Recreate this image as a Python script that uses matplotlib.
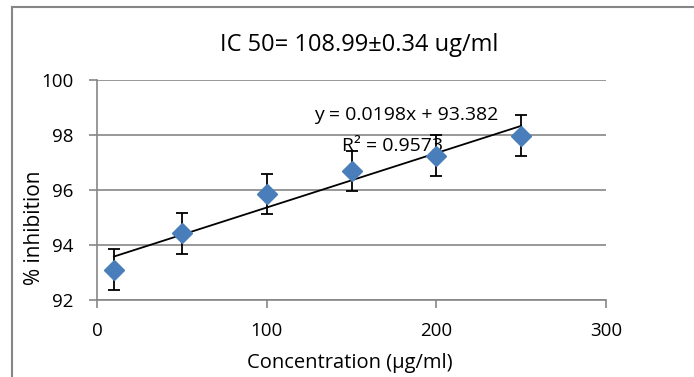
import matplotlib.pyplot as plt
from matplotlib.lines import Line2D
import numpy as np

# data
conc = [10, 50, 100, 150, 200, 250]
inhibition = [93.1, 94.42, 95.85, 96.7, 97.25, 97.98]
err = [0.74, 0.73, 0.73, 0.73, 0.75, 0.75]
slope = 0.0198
intercept = 93.382
r2 = 0.9573

plt.rcParams['font.family'] = ['Open Sans', 'DejaVu Sans']

W, H = 694, 377
fig = plt.figure(figsize=(W / 100, H / 100), dpi=100)
ax = fig.add_axes([97 / W, 1 - 300 / H, (606 - 97) / W, (300 - 80) / H])

grid_col = '#868686'
ax.set_xlim(0, 300)
ax.set_ylim(92, 100)
ax.set_xticks([0, 100, 200, 300])
ax.set_yticks([92, 94, 96, 98, 100])
ax.yaxis.grid(True, color=grid_col, linewidth=1.2)
ax.set_axisbelow(True)
for s in ['top', 'right']:
    ax.spines[s].set_visible(False)
for s in ['left', 'bottom']:
    ax.spines[s].set_color(grid_col)
    ax.spines[s].set_linewidth(1.2)
ax.tick_params(axis='both', color=grid_col, width=1.2, length=6, labelsize=13.5)
ax.tick_params(axis='x', pad=10)
ax.tick_params(axis='y', pad=11)

# trendline
xt = np.array([conc[0], conc[-1]])
ax.plot(xt, slope * xt + intercept, color='black', linewidth=1.3, zorder=2)

ax.errorbar(conc, inhibition, yerr=err, fmt='none', ecolor='black', elinewidth=1.3,
            capsize=4, capthick=1.3, zorder=3)
ax.plot(conc, inhibition, linestyle='none', marker='D', markersize=10,
        color='#4A7EBB', zorder=4)

ax.text(406.5 / W, 1 - 115 / H, 'y = %.4fx + %.3f' % (slope, intercept), ha='center', va='center',
        fontsize=14, transform=fig.transFigure)
ax.text(392 / W, 1 - 146 / H, 'R² = %.4f' % r2, ha='center', va='center',
        fontsize=14, transform=fig.transFigure)

fig.text(359 / W, 1 - 45 / H, 'IC 50= 108.99±0.34 ug/ml', ha='center', va='center', fontsize=17)
ax.set_xlabel('Concentration (µg/ml)', fontsize=14.5)
ax.set_ylabel('% inhibition', fontsize=15)
ax.xaxis.set_label_coords(0.497, -0.285)
ax.yaxis.set_label_coords(-0.122, 0.327)
ax.xaxis.label.set_va('center')
ax.yaxis.label.set_va('center')

# outer chart border (only left and top edges are inside the crop)
fig.add_artist(Line2D([12 / W, 12 / W], [0, 1 - 7 / H], transform=fig.transFigure,
                      color=grid_col, linewidth=1.5))
fig.add_artist(Line2D([12 / W, 1], [1 - 7 / H, 1 - 7 / H], transform=fig.transFigure,
                      color=grid_col, linewidth=1.5))

fig.savefig('out.png', dpi=100)
